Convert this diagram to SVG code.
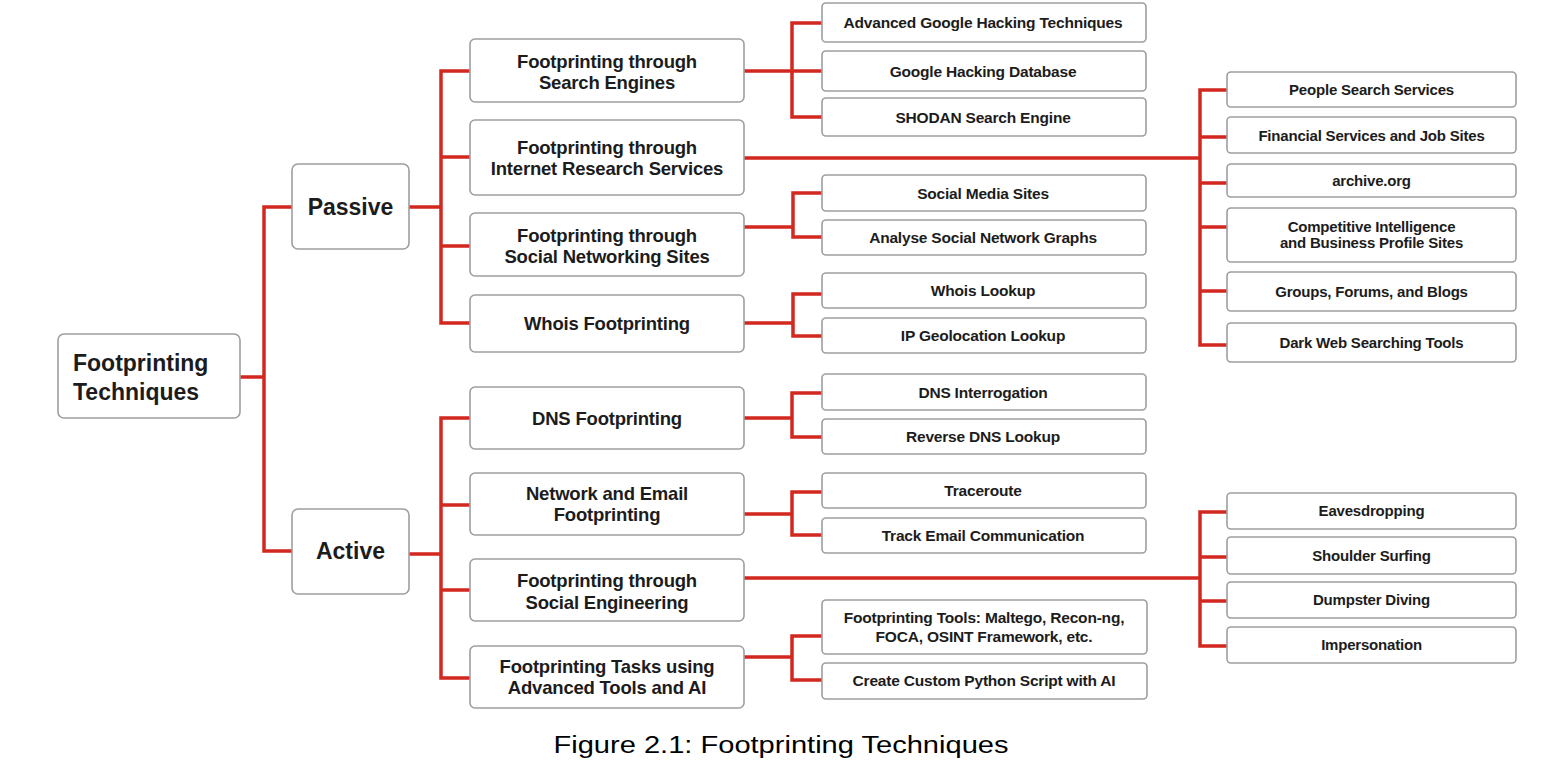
<svg xmlns="http://www.w3.org/2000/svg" width="1566" height="770" viewBox="0 0 1566 770">
<style>
.bx{fill:#fff;stroke:#9e9e9e;stroke-width:1.6}
.cn{fill:none;stroke:#d2281f;stroke-width:3.5;stroke-linejoin:miter}
text{font-family:"Liberation Sans",Arial,sans-serif;font-weight:bold;fill:#1c1c1c;text-anchor:middle}
.t0{font-size:23px;text-anchor:start}
.t1{font-size:23px}
.t2{font-size:18.5px;letter-spacing:-0.2px}
.t3{font-size:15.5px;letter-spacing:-0.2px}
.t4{font-size:15px;letter-spacing:-0.2px}
.cap{font-family:"Liberation Sans",Arial,sans-serif;font-weight:normal;font-size:23px;fill:#000}
</style>
<rect width="1566" height="770" fill="#fff"/>
<g id="connectors">
<path class="cn" d="M240 377 H264 M292 207 H264 V551 H292"/>
<path class="cn" d="M409 207 H441 M470 71 H441 V323 H470 M441 157 H470 M441 246 H470"/>
<path class="cn" d="M409 554 H441 M470 418 H441 V678 H470 M441 505 H470 M441 590 H470"/>
<path class="cn" d="M744 71 H792 M822 23 H792 V117 H822 M792 71 H822"/>
<path class="cn" d="M744 158 H1200 M1227 90 H1200 V345 H1227 M1200 137 H1227 M1200 183 H1227 M1200 227 H1227 M1200 291 H1227"/>
<path class="cn" d="M744 227 H793 M822 193 H793 V237 H822"/>
<path class="cn" d="M744 323 H793 M824 294 H793 V336 H822"/>
<path class="cn" d="M744 418 H792 M822 393 H792 V437 H822"/>
<path class="cn" d="M744 514 H792 M822 492 H792 V535 H822"/>
<path class="cn" d="M744 578 H1200 M1227 512 H1200 V646 H1227 M1200 557 H1227 M1200 601 H1227"/>
<path class="cn" d="M744 657 H792 M822 636 H792 V680 H822"/>
</g>
<g id="root"><rect class="bx" x="58" y="334" width="182" height="84" rx="6"/><text class="t0" x="73" y="371">Footprinting</text><text class="t0" x="73" y="400">Techniques</text></g>
<g id="passive"><rect class="bx" x="292" y="164" width="117" height="85" rx="6"/><text class="t1" x="350.5" y="215">Passive</text></g>
<g id="active"><rect class="bx" x="292" y="509" width="117" height="85" rx="6"/><text class="t1" x="350.5" y="559">Active</text></g>

<g id="search-engines"><rect class="bx" x="470" y="39" width="274" height="63" rx="5"/><text class="t2" x="607" y="67.5">Footprinting through</text><text class="t2" x="607" y="88.5">Search Engines</text></g>
<g id="internet-research"><rect class="bx" x="470" y="120" width="274" height="75" rx="5"/><text class="t2" x="607" y="153.5">Footprinting through</text><text class="t2" x="607" y="174.5">Internet Research Services</text></g>
<g id="social-networking"><rect class="bx" x="470" y="213" width="274" height="63" rx="5"/><text class="t2" x="607" y="241.5">Footprinting through</text><text class="t2" x="607" y="262.5">Social Networking Sites</text></g>
<g id="whois"><rect class="bx" x="470" y="295" width="274" height="57" rx="5"/><text class="t2" x="607" y="329.5">Whois Footprinting</text></g>
<g id="dns"><rect class="bx" x="470" y="387" width="274" height="62" rx="5"/><text class="t2" x="607" y="424.5">DNS Footprinting</text></g>
<g id="network-email"><rect class="bx" x="470" y="473" width="274" height="62" rx="5"/><text class="t2" x="607" y="499.5">Network and Email</text><text class="t2" x="607" y="520.5">Footprinting</text></g>
<g id="social-engineering"><rect class="bx" x="470" y="559" width="274" height="62" rx="5"/><text class="t2" x="607" y="586.5">Footprinting through</text><text class="t2" x="607" y="608.5">Social Engineering</text></g>
<g id="tasks-ai"><rect class="bx" x="470" y="646" width="274" height="62" rx="5"/><text class="t2" x="607" y="672.5">Footprinting Tasks using</text><text class="t2" x="607" y="693.5">Advanced Tools and AI</text></g>

<g id="adv-google"><rect class="bx" x="822" y="3" width="324" height="39" rx="4"/><text class="t3" x="983" y="28">Advanced Google Hacking Techniques</text></g>
<g id="ghdb"><rect class="bx" x="822" y="51" width="324" height="40" rx="4"/><text class="t3" x="983" y="76.5">Google Hacking Database</text></g>
<g id="shodan"><rect class="bx" x="822" y="98" width="324" height="38" rx="4"/><text class="t3" x="983" y="122.5">SHODAN Search Engine</text></g>
<g id="social-media"><rect class="bx" x="822" y="175" width="324" height="36" rx="4"/><text class="t3" x="983" y="198.5">Social Media Sites</text></g>
<g id="analyse-graphs"><rect class="bx" x="822" y="220" width="324" height="35" rx="4"/><text class="t3" x="983" y="243">Analyse Social Network Graphs</text></g>
<g id="whois-lookup"><rect class="bx" x="822" y="273" width="324" height="35" rx="4"/><text class="t3" x="983" y="296">Whois Lookup</text></g>
<g id="ip-geo"><rect class="bx" x="822" y="318" width="324" height="35" rx="4"/><text class="t3" x="983" y="340.5">IP Geolocation Lookup</text></g>
<g id="dns-interrogation"><rect class="bx" x="822" y="374" width="324" height="36" rx="4"/><text class="t3" x="983" y="397.5">DNS Interrogation</text></g>
<g id="reverse-dns"><rect class="bx" x="822" y="419" width="324" height="35" rx="4"/><text class="t3" x="983" y="442">Reverse DNS Lookup</text></g>
<g id="traceroute"><rect class="bx" x="822" y="473" width="324" height="35" rx="4"/><text class="t3" x="983" y="496">Traceroute</text></g>
<g id="track-email"><rect class="bx" x="822" y="518" width="324" height="35" rx="4"/><text class="t3" x="983" y="540.5">Track Email Communication</text></g>
<g id="fp-tools"><rect class="bx" x="822" y="600" width="325" height="54" rx="4"/><text class="t3" x="984" y="623">Footprinting Tools: Maltego, Recon-ng,</text><text class="t3" x="984" y="641.5">FOCA, OSINT Framework, etc.</text></g>
<g id="python-ai"><rect class="bx" x="822" y="663" width="325" height="36" rx="4"/><text class="t3" x="984" y="686">Create Custom Python Script with AI</text></g>

<g id="people-search"><rect class="bx" x="1227" y="72" width="289" height="35" rx="4"/><text class="t4" x="1371.5" y="95">People Search Services</text></g>
<g id="financial"><rect class="bx" x="1227" y="117" width="289" height="36" rx="4"/><text class="t4" x="1371.5" y="140.5">Financial Services and Job Sites</text></g>
<g id="archive"><rect class="bx" x="1227" y="164" width="289" height="33" rx="4"/><text class="t4" x="1371.5" y="186">archive.org</text></g>
<g id="competitive"><rect class="bx" x="1227" y="208" width="289" height="54" rx="4"/><text class="t4" x="1371.5" y="232">Competitive Intelligence</text><text class="t4" x="1371.5" y="248">and Business Profile Sites</text></g>
<g id="groups"><rect class="bx" x="1227" y="272" width="289" height="39" rx="4"/><text class="t4" x="1371.5" y="296.5">Groups, Forums, and Blogs</text></g>
<g id="dark-web"><rect class="bx" x="1227" y="323" width="289" height="39" rx="4"/><text class="t4" x="1371.5" y="348">Dark Web Searching Tools</text></g>
<g id="eavesdropping"><rect class="bx" x="1227" y="493" width="289" height="36" rx="4"/><text class="t4" x="1371.5" y="516">Eavesdropping</text></g>
<g id="shoulder"><rect class="bx" x="1227" y="537" width="289" height="37" rx="4"/><text class="t4" x="1371.5" y="560.5">Shoulder Surfing</text></g>
<g id="dumpster"><rect class="bx" x="1227" y="582" width="289" height="36" rx="4"/><text class="t4" x="1371.5" y="605">Dumpster Diving</text></g>
<g id="impersonation"><rect class="bx" x="1227" y="627" width="289" height="36" rx="4"/><text class="t4" x="1371.5" y="650">Impersonation</text></g>

<text class="cap" x="781" y="753" textLength="455" lengthAdjust="spacingAndGlyphs">Figure 2.1: Footprinting Techniques</text>
</svg>
